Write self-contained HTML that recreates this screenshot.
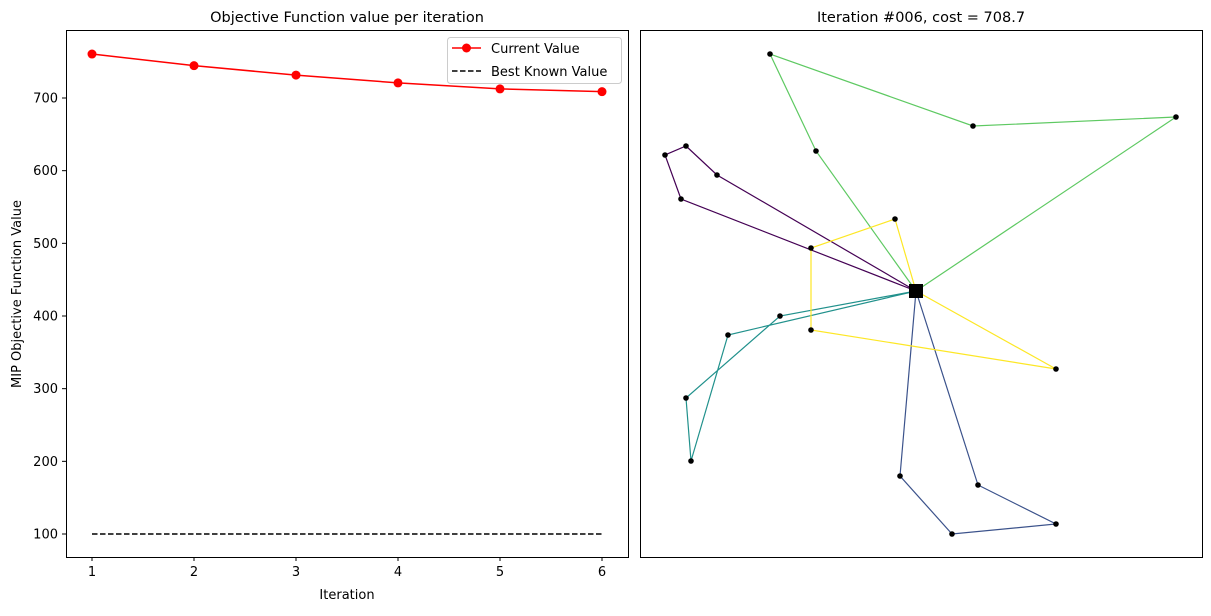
<!DOCTYPE html>
<html><head><meta charset="utf-8"><style>
body{margin:0;background:#fff;}
svg{font-family:"DejaVu Sans","Liberation Sans",sans-serif;}
</style></head><body>
<svg width="1211" height="611" viewBox="0 0 1211 611" xmlns="http://www.w3.org/2000/svg">
<rect width="1211" height="611" fill="#fff"/>
<g id="left"></g>
<g id="right"></g>
</svg>
<script>
const iterations=[1,2,3,4,5,6];
const currentValues=[760.5,744.5,731.5,720.8,712.5,708.7];
const bestKnown=[100,100,100,100,100,100];
const yTicks=[100,200,300,400,500,600,700];
const xTicks=[1,2,3,4,5,6];
// route map nodes (map units)
const depot=[276,266];
const routeColors=["#440154","#3b528b","#21918c","#5ec962","#fde725"];
const routes=[
 [[41,358],[25,402],[46,411],[77,382]],
 [[260,81],[312,23],[416,33],[338,72]],
 [[140,241],[46,159],[51,96],[88,222]],
 [[176,406],[130,503],[333,431],[536,440]],
 [[255,338],[171,309],[171,227],[416,188]]
];
const NS="http://www.w3.org/2000/svg";
function mk(p,t,a){const e=document.createElementNS(NS,t);for(const k in a)e.setAttribute(k,a[k]);p.appendChild(e);return e;}
const L=document.getElementById('left');
const sx=v=>92+(v-1)*102;
const sy=v=>534-(v-100)*(436/600);
// frame
const f1=mk(L,'rect',{x:66.5,y:30.5,width:562,height:527,fill:'none',stroke:'#000','stroke-width':1});


yTicks.forEach(t=>{
 const y=sy(t);
 const l=mk(L,'line',{x1:62,x2:66,y1:y,y2:y,stroke:'#000'});
 
 
 const tx=mk(L,'text',{x:58,y:y+4.5,'text-anchor':'end','font-size':13});
 tx.textContent=t;
 
 
});
xTicks.forEach(t=>{
 const x=sx(t);
 const l=mk(L,'line',{x1:x,x2:x,y1:557,y2:561,stroke:'#000'});
 
 
 const tx=mk(L,'text',{x:x,y:576,'text-anchor':'middle','font-size':13});
 tx.textContent=t;
 
 
});
const bl=mk(L,'polyline',{points:iterations.map((d,i)=>sx(d)+','+sy(bestKnown[i])).join(' '),fill:'none',stroke:'#000','stroke-width':1.5,'stroke-dasharray':'5.5,2.5'});


const cl=mk(L,'polyline',{points:iterations.map((d,i)=>sx(d)+','+sy(currentValues[i])).join(' '),fill:'none',stroke:'#ff0000','stroke-width':1.5});


iterations.forEach((d,i)=>{
 const c=mk(L,'circle',{cx:sx(d),cy:sy(currentValues[i]),r:4.5,fill:'#ff0000'});
 
 
});
const t1=mk(L,'text',{x:347,y:22,'text-anchor':'middle','font-size':14.5});
t1.textContent='Objective Function value per iteration';


const xl=mk(L,'text',{x:347,y:599,'text-anchor':'middle','font-size':13});
xl.textContent='Iteration';


const yl=mk(L,'text',{x:0,y:0,'text-anchor':'middle','font-size':13,transform:'translate(21,294) rotate(-90)'});
yl.textContent='MIP Objective Function Value';


// legend
const lg=mk(L,'g',{});


mk(lg,'rect',{x:447.5,y:37.5,width:174,height:46,rx:3,fill:'#fff',stroke:'#ccc'});
mk(lg,'line',{x1:452,x2:481,y1:48,y2:48,stroke:'#ff0000','stroke-width':1.5});
mk(lg,'circle',{cx:466.5,cy:48,r:4.5,fill:'#ff0000'});
const le1=mk(lg,'text',{x:491,y:53,'font-size':13});le1.textContent='Current Value';


mk(lg,'line',{x1:452,x2:481,y1:71,y2:71,stroke:'#000','stroke-width':1.5,'stroke-dasharray':'5.5,2.5'});
const le2=mk(lg,'text',{x:491,y:76,'font-size':13});le2.textContent='Best Known Value';


// right plot
const R=document.getElementById('right');
const mx=v=>640+v, my=v=>557-v;
const f2=mk(R,'rect',{x:640.5,y:30.5,width:562,height:527,fill:'none',stroke:'#000'});


routes.forEach((r,i)=>{
 const pts=[depot,...r,depot].map(p=>mx(p[0])+','+my(p[1])).join(' ');
 const pl=mk(R,'polyline',{points:pts,fill:'none',stroke:routeColors[i],'stroke-width':1.2});
 
 
});
routes.forEach(r=>r.forEach(p=>{
 const c=mk(R,'circle',{cx:mx(p[0]),cy:my(p[1]),r:2.8,fill:'#000'});
 
 
}));
const dp=mk(R,'rect',{x:mx(depot[0])-7,y:my(depot[1])-7,width:14,height:14,fill:'#000'});


const t2=mk(R,'text',{x:921,y:22,'text-anchor':'middle','font-size':14.5});
t2.textContent='Iteration #006, cost = 708.7';


</script>
</body></html>
